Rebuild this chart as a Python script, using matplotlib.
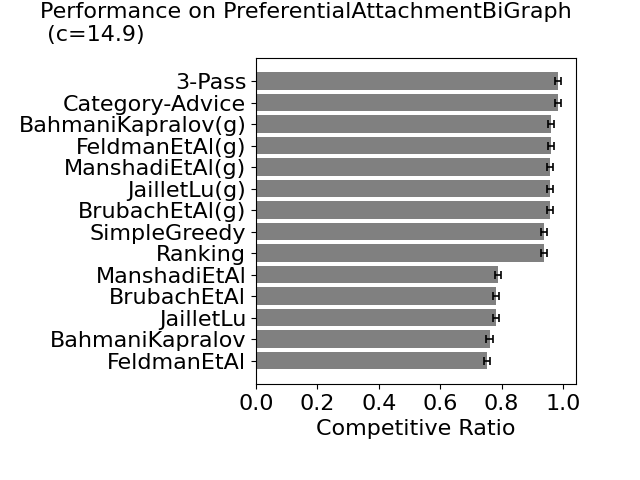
import matplotlib
matplotlib.use("Agg")
import matplotlib.pyplot as plt
import numpy as np

algorithms = ["3-Pass", "Category-Advice", "BahmaniKapralov(g)", "FeldmanEtAl(g)",
              "ManshadiEtAl(g)", "JailletLu(g)", "BrubachEtAl(g)", "SimpleGreedy",
              "Ranking", "ManshadiEtAl", "BrubachEtAl", "JailletLu",
              "BahmaniKapralov", "FeldmanEtAl"]
ratios = [0.983, 0.983, 0.960, 0.960, 0.959, 0.957, 0.957, 0.938,
          0.938, 0.788, 0.782, 0.782, 0.761, 0.752]
errors = [0.010, 0.010, 0.010, 0.010, 0.010, 0.010, 0.010, 0.010,
          0.010, 0.010, 0.010, 0.010, 0.010, 0.010]

fig = plt.figure(figsize=(6.4, 4.8), dpi=100)
ax = fig.add_axes([0.4, 0.2, 0.5, 0.68])
y = np.arange(len(algorithms))[::-1]
ax.barh(y, ratios, height=0.8, xerr=errors, color="gray",
        error_kw=dict(ecolor="black", capsize=3, elinewidth=1.2, capthick=1.2))
ax.set_yticks(y)
ax.set_yticklabels(algorithms, fontsize=16)
ax.set_xticks([0.0, 0.2, 0.4, 0.6, 0.8, 1.0])
ax.tick_params(axis="x", labelsize=16)
ax.set_xlabel("Competitive Ratio", fontsize=16)
fig.text(40 / 640, 1 - 2 / 480, "Performance on PreferentialAttachmentBiGraph\n (c=14.9)",
         fontsize=16, ha="left", va="top")
fig.savefig("out.png", dpi=100)
